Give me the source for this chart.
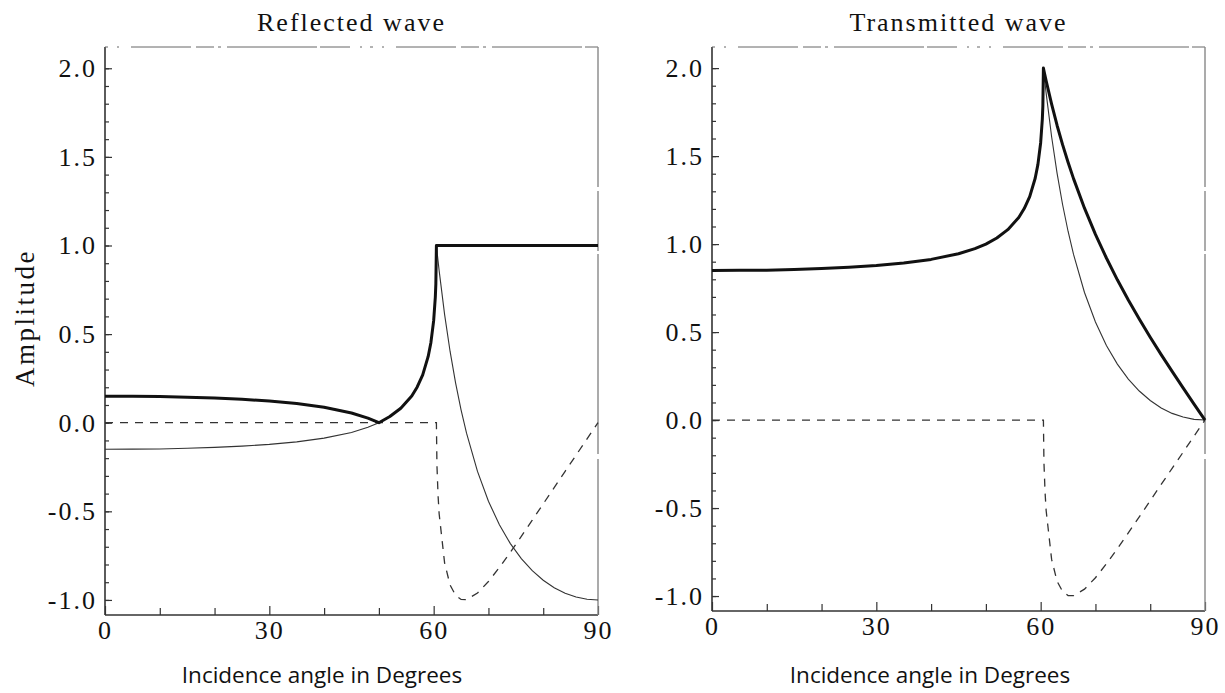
<!DOCTYPE html>
<html>
<head>
<meta charset="utf-8">
<script src="https://cdn.jsdelivr.net/npm/d3@7"></script>
<style>
  body { margin: 0; background: #fff; }
  svg { display: block; }
  .tick text { font-family: "Liberation Serif", "Times New Roman", serif; font-size: 26px; letter-spacing: 2px; fill: #111; }
  .tick line { stroke: #333; stroke-width: 1.2; }
  .title { font-family: "Liberation Serif", serif; font-size: 26px; letter-spacing: 2px; fill: #111; }
  .ytitle { font-family: "Liberation Serif", serif; font-size: 27px; letter-spacing: 2.5px; fill: #111; }
  .xtitle { font-family: "Open Sans", sans-serif; font-size: 22.5px; fill: #111; }
</style>
</head>
<body>
<script>
const { select, scaleLinear, axisLeft, axisBottom, line } = d3;

// incidence angles (degrees) the curves were read at
const angles = [0, 5, 10, 15, 20, 25, 30, 35, 40, 45, 48, 50, 52, 54, 56, 57, 58, 59, 59.5, 60, 60.3, 60.4, 60.5,
  60.6, 60.8, 61, 62, 63, 64, 65, 66, 68, 70, 72, 74, 76, 78, 80, 82, 84, 86, 88, 90];

// reflected wave: amplitude (thick), real part (thin), imaginary part (dashed)
const reflAmp = [0.150, 0.149, 0.148, 0.144, 0.139, 0.132, 0.122, 0.108, 0.087, 0.055, 0.026, 0.000, 0.035, 0.082, 0.151, 0.202, 0.270, 0.374, 0.453, 0.576, 0.708, 0.784, 1.0,
  1.0, 1.0, 1.0, 1.0, 1.0, 1.0, 1.0, 1.0, 1.0, 1.0, 1.0, 1.0, 1.0, 1.0, 1.0, 1.0, 1.0, 1.0, 1.0, 1.0];
const reflReal = [-0.150, -0.149, -0.148, -0.144, -0.139, -0.132, -0.122, -0.108, -0.087, -0.055, -0.026, 0.000, 0.035, 0.082, 0.151, 0.202, 0.270, 0.374, 0.453, 0.576, 0.708, 0.784, 1.0,
  0.970, 0.913, 0.858, 0.610, 0.402, 0.225, 0.073, -0.059, -0.275, -0.443, -0.576, -0.682, -0.767, -0.835, -0.889, -0.931, -0.962, -0.983, -0.996, -1.0];
const reflImag = [0, 0, 0, 0, 0, 0, 0, 0, 0, 0, 0, 0, 0, 0, 0, 0, 0, 0, 0, 0, 0, 0, 0,
  -0.242, -0.409, -0.514, -0.792, -0.916, -0.974, -0.997, -0.998, -0.961, -0.896, -0.817, -0.731, -0.641, -0.550, -0.458, -0.366, -0.274, -0.183, -0.091, 0];

// transmitted wave
const transAmp = [0.850, 0.851, 0.852, 0.856, 0.861, 0.868, 0.878, 0.892, 0.913, 0.945, 0.974, 1.000, 1.035, 1.082, 1.151, 1.202, 1.270, 1.374, 1.453, 1.576, 1.708, 1.784, 2.0,
  1.985, 1.956, 1.928, 1.795, 1.674, 1.565, 1.465, 1.372, 1.204, 1.055, 0.921, 0.797, 0.682, 0.574, 0.471, 0.372, 0.277, 0.183, 0.091, 0];
const transReal = [0.850, 0.851, 0.852, 0.856, 0.861, 0.868, 0.878, 0.892, 0.913, 0.945, 0.974, 1.000, 1.035, 1.082, 1.151, 1.202, 1.270, 1.374, 1.453, 1.576, 1.708, 1.784, 2.0,
  1.970, 1.913, 1.858, 1.610, 1.402, 1.225, 1.073, 0.941, 0.725, 0.557, 0.424, 0.318, 0.233, 0.165, 0.111, 0.069, 0.038, 0.017, 0.004, 0];
const transImag = reflImag.slice();

const yTicks = [-1.0, -0.5, 0.0, 0.5, 1.0, 1.5, 2.0];
const yMinorTicks = [-1.0, -0.9, -0.8, -0.7, -0.6, -0.5, -0.4, -0.3, -0.2, -0.1, 0.0, 0.1, 0.2, 0.3, 0.4, 0.5,
  0.6, 0.7, 0.8, 0.9, 1.0, 1.1, 1.2, 1.3, 1.4, 1.5, 1.6, 1.7, 1.8, 1.9, 2.0];
const xTicks = [0, 30, 60, 90];
const xMinorTicks = [10, 20, 40, 50, 70, 80];
const titles = ["Reflected wave", "Transmitted wave"];
const xTitle = "Incidence angle in Degrees";
const yTitle = "Amplitude";

const width = 1225;
const height = 693;

const svg = select("body")
  .append("svg")
  .attr("width", width)
  .attr("height", height);

const panels = [
  { left: 105, right: 598, top: 47, bottom: 615, xTitleX: 322, title: titles[0],
    amp: reflAmp, real: reflReal, imag: reflImag },
  { left: 712, right: 1205, top: 47, bottom: 611, xTitleX: 930, title: titles[1],
    amp: transAmp, real: transReal, imag: transImag }
];

const pairs = vals => angles.map((a, i) => [a, vals[i]]);

panels.forEach((p, k) => {
  const x = scaleLinear().domain([0, 90]).range([p.left, p.right]);
  const y = scaleLinear().domain([-1.085, 2.12]).range([p.bottom, p.top]);

  const g = svg.append("g");

  // minor ticks
  g.append("g")
    .attr("transform", `translate(${p.left},0)`)
    .call(axisLeft(y).tickValues(yMinorTicks).tickSizeInner(-4).tickSizeOuter(0).tickFormat(""))
    .call(s => s.select(".domain").remove());
  g.append("g")
    .attr("transform", `translate(0,${p.bottom})`)
    .call(axisBottom(x).tickValues(xMinorTicks).tickSizeInner(-7).tickSizeOuter(0).tickFormat(""))
    .call(s => s.select(".domain").remove());

  // major ticks with labels
  g.append("g")
    .attr("transform", `translate(${p.left},0)`)
    .call(axisLeft(y).tickValues(yTicks).tickSizeInner(-7).tickSizeOuter(0).tickPadding(8)
      .tickFormat(d => d.toFixed(1)))
    .call(s => s.select(".domain").remove());
  g.append("g")
    .attr("transform", `translate(0,${p.bottom})`)
    .call(axisBottom(x).tickValues(xTicks).tickSizeInner(-9).tickSizeOuter(0).tickPadding(6)
      .tickFormat(d => d))
    .call(s => s.select(".domain").remove());

  // frame: left and bottom solid, top and right faint like the scan
  g.append("line").attr("x1", p.left).attr("x2", p.left).attr("y1", p.top).attr("y2", p.bottom)
    .attr("stroke", "#333").attr("stroke-width", 1.6);
  g.append("line").attr("x1", p.left).attr("x2", p.right).attr("y1", p.bottom).attr("y2", p.bottom)
    .attr("stroke", "#333").attr("stroke-width", 1.6);
  g.append("line").attr("x1", p.left).attr("x2", p.right).attr("y1", p.top).attr("y2", p.top)
    .attr("stroke", "#666").attr("stroke-width", 1)
    .attr("stroke-dasharray", "3,9,2,12,60,5,18,4,3,6,90,3,30,10,2,8");
  g.append("line").attr("x1", p.right).attr("x2", p.right).attr("y1", p.top).attr("y2", p.bottom)
    .attr("stroke", "#888").attr("stroke-width", 1.4)
    .attr("stroke-dasharray", "140,4,60,3,200,5,400");

  const path = line().x(d => x(d[0])).y(d => y(d[1]));

  g.append("path").datum(pairs(p.imag))
    .attr("d", path).attr("fill", "none")
    .attr("stroke", "#333").attr("stroke-width", 1.3).attr("stroke-dasharray", "8,7");
  g.append("path").datum(pairs(p.real))
    .attr("d", path).attr("fill", "none")
    .attr("stroke", "#333").attr("stroke-width", 1.1);
  g.append("path").datum(pairs(p.amp))
    .attr("d", path).attr("fill", "none")
    .attr("stroke", "#111").attr("stroke-width", 3).attr("stroke-linejoin", "round");

  // titles
  g.append("text").attr("class", "title")
    .attr("x", (p.left + p.right) / 2).attr("y", 31)
    .attr("text-anchor", "middle").text(p.title);
  g.append("text").attr("class", "xtitle")
    .attr("x", p.xTitleX).attr("y", 683)
    .attr("text-anchor", "middle").text(xTitle);

  if (k === 0) {
    g.append("text").attr("class", "ytitle")
      .attr("transform", "translate(34,318) rotate(-90)")
      .attr("text-anchor", "middle").text(yTitle);
  }
});
</script>
</body>
</html>
